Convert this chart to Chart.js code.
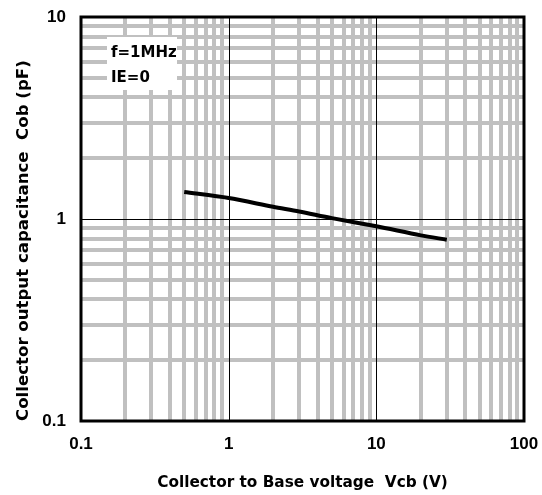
<!DOCTYPE html>
<html><head><meta charset="utf-8">
<script src="https://cdn.jsdelivr.net/npm/chart.js@4/dist/chart.umd.min.js"></script>
<style>html,body{margin:0;padding:0;background:#fff;}</style>
</head><body>
<canvas id="c" width="542" height="495" style="width:542px;height:495px;display:block"></canvas>
<script>
const vcb = [0.5, 1, 2, 3, 5, 10, 20, 30];
const cob = [1.36, 1.27, 1.15, 1.09, 1.01, 0.92, 0.83, 0.79];
const xDecades = [0.1, 1, 10, 100];
const yDecades = [0.1, 1, 10];
const minorSteps = [1, 2, 3, 4, 5, 6, 7, 8, 9];
const xTickLabels = ['0.1', '1', '10', '100'];
const yTickLabels = ['0.1', '1', '10'];
const xTitle = 'Collector to Base voltage  Vcb (V)';
const yTitle = 'Collector output capacitance  Cob (pF)';
const noteLines = ['f=1MHz', 'IE=0'];

function buildTicks(decades) {
  const out = [];
  for (let i = 0; i < decades.length - 1; i++) {
    for (const m of minorSteps) out.push(Number((decades[i] * m).toPrecision(6)));
  }
  out.push(decades[decades.length - 1]);
  return out;
}
const xTickVals = buildTicks(xDecades);
const yTickVals = buildTicks(yDecades);
function isMajor(v) {
  const l = Math.log10(v);
  return Math.abs(l - Math.round(l)) < 1e-6;
}
function labelFor(v, decades, labels) {
  const i = decades.findIndex(d => Math.abs(d - v) < 1e-9);
  return i >= 0 ? labels[i] : '';
}
const tickFont = {family: '"Liberation Sans", Arial, sans-serif', size: 17, weight: 'bold'};
const xTitleFont = {family: '"DejaVu Sans", sans-serif', size: 15.3, weight: 'bold'};
const yTitleFont = {family: '"DejaVu Sans", sans-serif', size: 16.6, weight: 'bold'};
const noteFont = 'bold 15px "DejaVu Sans", sans-serif';

const framePlugin = {
  id: 'frame',
  beforeDatasetsDraw(chart) {
    const {ctx, chartArea: a, scales} = chart;
    ctx.save();
    ctx.strokeStyle = '#000';
    ctx.lineWidth = 1;
    xDecades.slice(1, -1).forEach(v => {
      const px = Math.round(scales.x.getPixelForValue(v)) + 0.5;
      ctx.beginPath(); ctx.moveTo(px, a.top); ctx.lineTo(px, a.bottom); ctx.stroke();
    });
    yDecades.slice(1, -1).forEach(v => {
      const py = Math.round(scales.y.getPixelForValue(v)) + 0.5;
      ctx.beginPath(); ctx.moveTo(a.left, py); ctx.lineTo(a.right, py); ctx.stroke();
    });
    // note box
    ctx.fillStyle = '#fff';
    ctx.fillRect(a.left + 26, a.top + 20, 70, 53);
    ctx.fillStyle = '#000';
    ctx.font = noteFont;
    ctx.textBaseline = 'middle';
    ctx.textAlign = 'left';
    noteLines.forEach((t, i) => ctx.fillText(t, a.left + 30, a.top + 36 + i * 25));
    // border
    ctx.lineWidth = 3;
    ctx.strokeRect(a.left, a.top, a.right - a.left, a.bottom - a.top);
    ctx.restore();
  }
};

new Chart(document.getElementById('c'), {
  type: 'line',
  data: {
    datasets: [{
      data: vcb.map((x, i) => ({x: x, y: cob[i]})),
      borderColor: '#000',
      borderWidth: 4,
      pointRadius: 0,
      tension: 0.3,
      fill: false
    }]
  },
  options: {
    responsive: false,
    devicePixelRatio: 1,
    animation: false,
    layout: {padding: {left: 0, right: 18, top: 17, bottom: 0}},
    plugins: {legend: {display: false}, tooltip: {enabled: false}},
    scales: {
      x: {
        type: 'logarithmic', min: 0.1, max: 100,
        afterBuildTicks: s => { s.ticks = xTickVals.map(v => ({value: v})); },
        afterFit: s => { s.height = 74; s.paddingLeft = 0; s.paddingRight = 0; },
        border: {display: false},
        grid: {
          drawTicks: false,
          color: c => (c.tick && isMajor(c.tick.value)) ? 'rgba(0,0,0,0)' : '#c0c0c0',
          lineWidth: 4
        },
        ticks: {
          autoSkip: false, maxRotation: 0, minRotation: 0, padding: 13,
          color: '#000', font: tickFont,
          callback: v => labelFor(v, xDecades, xTickLabels)
        },
        title: {display: true, text: xTitle, color: '#000', font: xTitleFont, padding: {top: 0, bottom: 3}}
      },
      y: {
        type: 'logarithmic', min: 0.1, max: 10,
        afterBuildTicks: s => { s.ticks = yTickVals.map(v => ({value: v})); },
        afterFit: s => { s.width = 81; s.paddingTop = 0; s.paddingBottom = 0; },
        border: {display: false},
        grid: {
          drawTicks: false,
          color: c => (c.tick && isMajor(c.tick.value)) ? 'rgba(0,0,0,0)' : '#c0c0c0',
          lineWidth: 4
        },
        ticks: {
          autoSkip: false, padding: 15,
          color: '#000', font: tickFont,
          callback: v => labelFor(v, yDecades, yTickLabels)
        },
        title: {display: true, text: yTitle, color: '#000', font: yTitleFont, align: 'start', padding: {top: 14, bottom: 0}}
      }
    }
  },
  plugins: [framePlugin]
});
</script>
</body></html>
